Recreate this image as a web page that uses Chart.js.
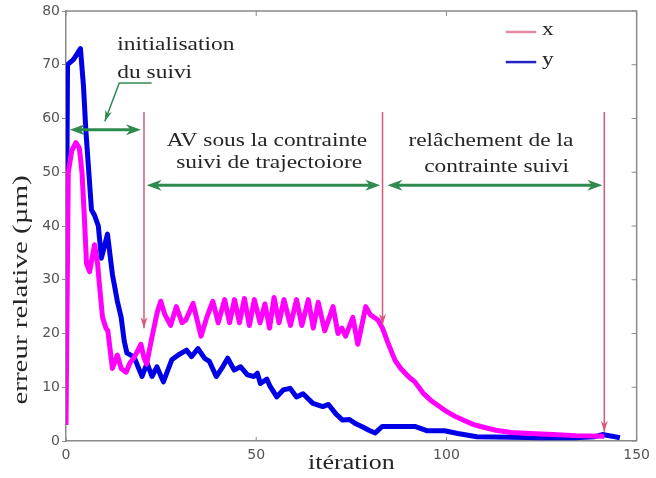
<!DOCTYPE html>
<html>
<head>
<meta charset="utf-8">
<script src="https://cdn.jsdelivr.net/npm/chart.js@4.4.1/dist/chart.umd.min.js"></script>
<style>
  body { margin: 0; background: #fff; }
  canvas { display: block; }
</style>
</head>
<body>
<canvas id="errChart" width="656" height="478"></canvas>
<script>
'use strict';

// iterations / values (x = magenta, y = blue)
const iterX = [0, 0.6, 1.5, 2.6, 3.5, 4.2, 4.8, 5.4, 6.2, 7.5, 8.3, 8.8, 9.6, 10.5, 11, 12.2, 13.5, 14.5, 15.8, 16.8,
  17.9, 19, 19.7, 20.5, 21.2, 22.5, 24, 24.9, 26, 27.5, 29, 30.5, 31.5, 33.4, 35.5, 37, 38.6, 40, 41.7, 43,
  44.3, 45.6, 46.9, 48.2, 49.5, 51, 52.3, 53.5, 54.7, 56, 57.3, 59, 60.6, 62, 63.7, 65, 66.3, 68, 70.2, 71.5,
  72.5, 73.5, 75.4, 76.7, 78.8, 80, 82, 83.2, 84.5, 86.5, 88, 90, 91.7, 94, 96, 98, 100, 102.5, 104.7, 107,
  109, 113, 117, 122, 128, 134, 141.5];
const errX = [3, 50, 54, 55.5, 54.5, 50, 42, 33, 31.5, 36.5, 33, 29, 23, 21, 20.5, 13.5, 16, 13.5, 12.8, 14.5,
  15.5, 17, 18, 15.5, 14.3, 19, 24, 26, 23.5, 21.5, 25, 22, 22.5, 25.6, 19.5, 23, 26, 22, 26.3, 22,
  26.3, 22, 26.5, 21.5, 26.3, 22, 25.5, 21, 26.7, 22, 26.3, 21.5, 26.3, 21.5, 26.3, 21, 25.8, 20.5, 25, 20,
  21, 19.5, 23, 18, 25, 23.5, 22.5, 21, 18.5, 15, 13.5, 12, 11, 8.8, 7.5, 6.5, 5.5, 4.5, 3.8, 3.1,
  2.7, 2, 1.6, 1.4, 1.2, 1.0, 0.9];

const iterY = [0, 0.4, 2, 3.8, 4.6, 5.2, 6, 6.7, 7.5, 8.5, 9.3, 10.9, 12.2, 13.5, 14.5, 15.3, 16, 17.9, 19, 20,
  21.3, 22.6, 23.9, 25.6, 27.8, 29.5, 31.7, 33, 34.7, 36.4, 37.7, 39.5, 41.2, 42.5, 44.2, 45.9, 47.7, 49.4, 50.3, 51.1,
  52.8, 53.7, 55.4, 57.1, 58.9, 60.6, 62.3, 64.9, 67.5, 69, 71, 72.7, 74.5, 76.2, 78, 79.6, 81.3, 83.1, 86.5, 91.7,
  95, 99.5, 103, 108, 116.8, 125, 133.7, 139, 141, 143.5, 145.6];
const errY = [20, 70, 71, 73, 66, 58, 50, 43, 42, 40, 34, 38.5, 31, 26, 23, 18.6, 16.4, 15.6, 13.7, 12,
  14.5, 12, 13.8, 11, 15.1, 16, 16.9, 15.7, 17.2, 15.4, 14.8, 12, 13.8, 15.4, 13.2, 13.8, 12.3, 12, 12.6, 10.7,
  11.5, 10.1, 8.2, 9.5, 9.8, 8.2, 8.8, 7.0, 6.4, 6.8, 5.0, 3.9, 4.0, 3.2, 2.6, 2.0, 1.5, 2.7, 2.7, 2.7,
  1.9, 1.9, 1.4, 0.8, 0.7, 0.6, 0.6, 0.8, 1.2, 0.9, 0.6];

const xTicks = [0, 50, 100, 150];
const yTicks = [0, 10, 20, 30, 40, 50, 60, 70, 80];
const seriesNames = ['x', 'y'];

const MAGENTA = '#ff00ff';
const BLUE = '#0000e6';
const GREEN = '#2f8a50';
const PINK = '#d9587a';
const SERIF = '"Liberation Serif", "Times New Roman", serif';

function toPoints(xs, ys) {
  let pts = [];
  for (let i = 0; i < xs.length; i++) {
    pts.push({x: xs[i], y: ys[i]});
  }
  return pts;
}

function stretchText(ctx, txt, x, y, sx, align) {
  ctx.save();
  ctx.translate(x, y);
  ctx.scale(sx, 1);
  ctx.textAlign = align;
  ctx.fillText(txt, 0, 0);
  ctx.restore();
}

function arrowHead(ctx, x, y, ang, len, half) {
  ctx.save();
  ctx.translate(x, y);
  ctx.rotate(ang);
  ctx.beginPath();
  ctx.moveTo(0, 0);
  ctx.lineTo(-len, -half);
  ctx.lineTo(-len * 0.7, 0);
  ctx.lineTo(-len, half);
  ctx.closePath();
  ctx.fill();
  ctx.restore();
}

// frame on top/right + inside ticks (matlab look)
const framePlugin = {
  id: 'frame',
  afterDraw(chart) {
    const ctx = chart.ctx;
    const a = chart.chartArea;
    const sx = chart.scales.x, sy = chart.scales.y;
    ctx.save();
    ctx.strokeStyle = '#8a8a8a';
    ctx.lineWidth = 1.5;
    ctx.beginPath();
    ctx.moveTo(a.left, a.top);
    ctx.lineTo(a.right, a.top);
    ctx.lineTo(a.right, a.bottom);
    ctx.stroke();
    ctx.lineWidth = 1;
    ctx.beginPath();
    yTicks.forEach(v => {
      let py = sy.getPixelForValue(v);
      ctx.moveTo(a.right, py);
      ctx.lineTo(a.right - 5, py);
    });
    xTicks.forEach(v => {
      let px = sx.getPixelForValue(v);
      ctx.moveTo(px, a.top);
      ctx.lineTo(px, a.top + 5);
      ctx.moveTo(px, a.bottom);
      ctx.lineTo(px, a.bottom - 4);
    });
    ctx.stroke();
    ctx.restore();
  }
};

// arrows, texts, legend, axis titles
const annotPlugin = {
  id: 'annot',
  afterDatasetsDraw(chart) {
    const ctx = chart.ctx;
    const sx = chart.scales.x, sy = chart.scales.y;
    const X = v => sx.getPixelForValue(v);
    const Y = v => sy.getPixelForValue(v);
    ctx.save();

    // pink vertical arrows
    ctx.strokeStyle = PINK;
    ctx.fillStyle = PINK;
    ctx.lineWidth = 1.5;
    [[20.5, 61.2, 21], [83.2, 61.2, 21.6], [141.5, 61.2, 1.7]].forEach(p => {
      ctx.beginPath();
      ctx.moveTo(X(p[0]), Y(p[1]));
      ctx.lineTo(X(p[0]), Y(p[2]));
      ctx.stroke();
      arrowHead(ctx, X(p[0]), Y(p[2]), Math.PI / 2, 11, 3.5);
    });

    // green double arrows
    ctx.strokeStyle = GREEN;
    ctx.fillStyle = GREEN;
    ctx.lineWidth = 3;
    [[1, 19.7, 57.9], [21.2, 82.6, 47.6], [84.5, 141, 47.6]].forEach(p => {
      let x1 = X(p[0]), x2 = X(p[1]), py = Y(p[2]);
      ctx.beginPath();
      ctx.moveTo(x1 + 8, py);
      ctx.lineTo(x2 - 8, py);
      ctx.stroke();
      arrowHead(ctx, x1, py, Math.PI, 15, 5.5);
      arrowHead(ctx, x2, py, 0, 15, 5.5);
    });

    // pointer from the "initialisation" label
    ctx.lineWidth = 1.5;
    ctx.beginPath();
    ctx.moveTo(X(22.5), Y(66.6));
    ctx.lineTo(X(14), Y(66.6));
    ctx.lineTo(X(10.2), Y(59.5));
    ctx.stroke();
    let ang = Math.atan2(Y(59.5) - Y(66.6), X(10.2) - X(14));
    arrowHead(ctx, X(10.2), Y(59.5), ang, 11, 3.5);

    // text labels
    ctx.fillStyle = '#262626';
    ctx.font = '18px ' + SERIF;
    ctx.textBaseline = 'alphabetic';
    stretchText(ctx, 'initialisation', X(13.5), Y(72.7), 1.3, 'left');
    stretchText(ctx, 'du suivi', X(13.5), Y(67.5), 1.3, 'left');
    stretchText(ctx, 'AV sous la contrainte', X(52.8), Y(54.9), 1.3, 'center');
    stretchText(ctx, 'suivi de trajectoiore', X(53.4), Y(50.8), 1.3, 'center');
    stretchText(ctx, 'relâchement de la', X(111.7), Y(54.8), 1.3, 'center');
    stretchText(ctx, 'contrainte suivi', X(113.2), Y(50.1), 1.3, 'center');

    // legend
    ctx.lineWidth = 2.5;
    ctx.strokeStyle = '#e58aa0';
    ctx.beginPath();
    ctx.moveTo(X(115.6), Y(76.1));
    ctx.lineTo(X(123.6), Y(76.1));
    ctx.stroke();
    ctx.strokeStyle = '#2323c8';
    ctx.beginPath();
    ctx.moveTo(X(115.6), Y(70.5));
    ctx.lineTo(X(123.6), Y(70.5));
    ctx.stroke();
    ctx.textBaseline = 'middle';
    stretchText(ctx, seriesNames[0], X(125.1), Y(76.1) - 2, 1.3, 'left');
    stretchText(ctx, seriesNames[1], X(125.1), Y(70.5) - 2, 1.3, 'left');

    // axis titles
    ctx.font = '20px ' + SERIF;
    ctx.textBaseline = 'middle';
    stretchText(ctx, 'itération', (chart.chartArea.left + chart.chartArea.right) / 2, 464, 1.3, 'center');
    ctx.save();
    ctx.translate(22, 290);
    ctx.rotate(-Math.PI / 2);
    ctx.scale(1.45, 1);
    ctx.textAlign = 'center';
    ctx.fillText('erreur relative (µm)', 0, 0);
    ctx.restore();

    ctx.restore();
  }
};

let ctx = document.getElementById('errChart').getContext('2d');

// eslint-disable-next-line no-unused-vars
let errChart = new Chart(ctx, {
  type: 'line',
  data: {
    datasets: [{
      label: seriesNames[0],
      data: toPoints(iterX, errX),
      borderColor: MAGENTA,
      borderWidth: 5,
      borderJoinStyle: 'round',
      pointRadius: 0,
      tension: 0,
      fill: false
    }, {
      label: seriesNames[1],
      data: toPoints(iterY, errY),
      borderColor: BLUE,
      borderWidth: 5,
      borderJoinStyle: 'round',
      pointRadius: 0,
      tension: 0,
      fill: false
    }]
  },
  options: {
    responsive: false,
    animation: false,
    layout: {
      padding: {top: 11, right: 10, left: 0, bottom: 0}
    },
    plugins: {
      legend: {display: false},
      tooltip: {enabled: false}
    },
    scales: {
      x: {
        type: 'linear',
        min: 0,
        max: 150,
        afterBuildTicks: scale => { scale.ticks = xTicks.map(v => ({value: v})); },
        afterFit: scale => { scale.height = 37; },
        grid: {drawOnChartArea: false, tickLength: 0},
        border: {color: '#8a8a8a', width: 1.5},
        ticks: {color: '#555', padding: 6, font: {family: 'DejaVu Sans', size: 14}}
      },
      y: {
        min: 0,
        max: 80,
        afterBuildTicks: scale => { scale.ticks = yTicks.map(v => ({value: v})); },
        afterFit: scale => { scale.width = 66; },
        grid: {drawOnChartArea: false, tickLength: 4, color: '#8a8a8a'},
        border: {color: '#8a8a8a', width: 1.5},
        ticks: {color: '#555', padding: 2, font: {family: 'DejaVu Sans', size: 14}}
      }
    }
  },
  plugins: [framePlugin, annotPlugin]
});
</script>
</body>
</html>
